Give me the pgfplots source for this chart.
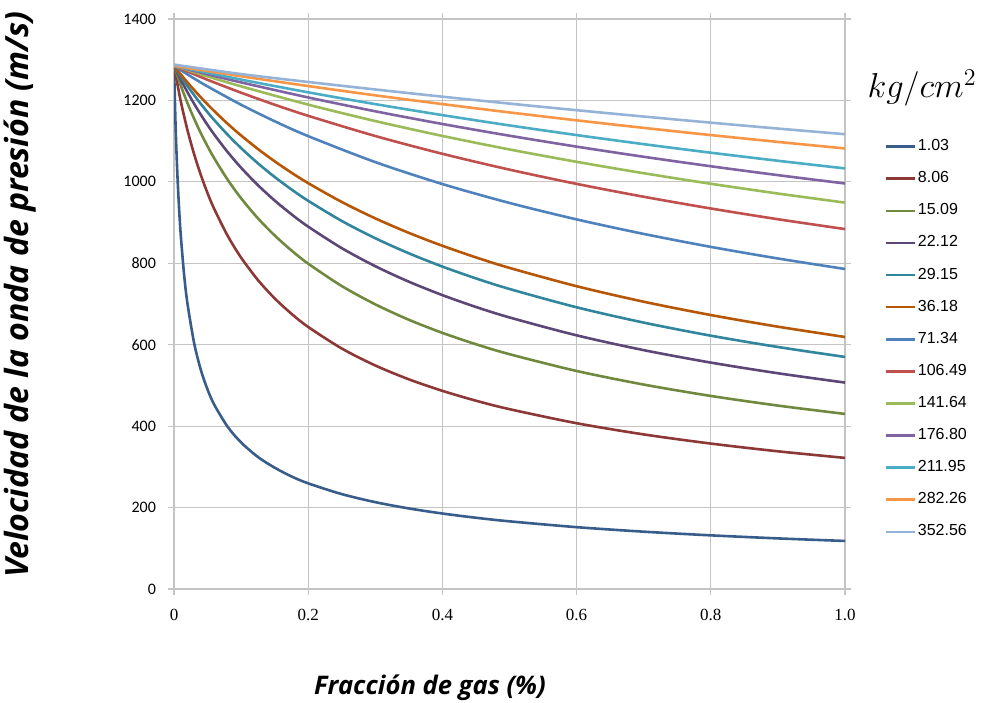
\documentclass[border=0pt]{standalone}
\usepackage{pgfplots}
\pgfplotsset{compat=1.18}
\usepackage{fontspec}
\setmainfont{Liberation Serif}
\newfontfamily\carlito{Carlito}
\newfontfamily\arialf{Liberation Sans}
\newfontfamily\opensans{Open Sans}
\definecolor{c1}{HTML}{385D8A}
\definecolor{c2}{HTML}{8C3836}
\definecolor{c3}{HTML}{71893F}
\definecolor{c4}{HTML}{5C4776}
\definecolor{c5}{HTML}{31859C}
\definecolor{c6}{HTML}{B65708}
\definecolor{c7}{HTML}{4F81BD}
\definecolor{c8}{HTML}{C0504D}
\definecolor{c9}{HTML}{9BBB59}
\definecolor{c10}{HTML}{8064A2}
\definecolor{c11}{HTML}{4BACC6}
\definecolor{c12}{HTML}{F79646}
\definecolor{c13}{HTML}{95B3D7}
\definecolor{gridc}{HTML}{C4C4C4}
\begin{document}
\begin{tikzpicture}
\path[use as bounding box] (0,0) rectangle (494pt,351pt);
\begin{axis}[
  at={(87pt,56.5pt)}, anchor=south west,
  scale only axis, width=335.5pt, height=285pt,
  xmin=0, xmax=1, ymin=0, ymax=1400,
  xtick={0,0.2,0.4,0.6,0.8,1.0},
  xticklabels={0,0.2,0.4,0.6,0.8,1.0},
  ytick={0,200,400,600,800,1000,1200,1400},
  yticklabels={0,200,400,600,800,1000,1200,1400},
  xticklabel style={font=\fontsize{8.5}{10}\selectfont, yshift=-3.5pt},
  yticklabel style={font=\carlito\fontsize{8}{10}\selectfont, xshift=-2.5pt},
  grid=major,
  major grid style={gridc, line width=0.6pt},
  axis line style={gridc, line width=0.6pt},
  tick style={gridc, line width=0.6pt},
  tick align=outside, major tick length=3pt,
  xlabel={Fracción de gas (\%)},
  ylabel={Velocidad de la onda de presión (m/s)},
  xlabel style={font=\opensans\bfseries\itshape\fontsize{12.8}{14}\selectfont, at={(axis description cs:0.3815,-0.1737)}, anchor=center},
  ylabel style={font=\opensans\bfseries\itshape\fontsize{16}{18}\selectfont, at={(axis description cs:-0.2295,0.516)}, anchor=center, rotate=0},
  legend style={at={(axis description cs:1.058,0.805)}, anchor=north west, draw=none, fill=none,
    font=\arialf\fontsize{8}{9}\selectfont, row sep=0pt, inner sep=0pt,
    nodes={inner sep=1pt, minimum height=16.05pt}},
  legend cell align=left,
  legend image code/.code={\draw[#1] (0pt,0pt) -- (14.5pt,0pt);},
  every axis plot/.append style={line width=1.3pt, smooth, tension=0.5},
]
\addplot[c1] coordinates {(0,1285) (0.0025,1130) (0.005,1020) (0.0075,936.7) (0.01,871) (0.015,772.9) (0.02,702) (0.03,604) (0.04,538.0) (0.05,490) (0.06,452.7) (0.08,398.3) (0.1,360) (0.125,324.3) (0.15,298) (0.175,276.6) (0.2,259.5) (0.25,233.1) (0.3,213.3) (0.35,197.9) (0.4,185.4) (0.45,175.0) (0.5,166.2) (0.6,151.9) (0.7,140.8) (0.8,131.8) (0.9,124.3) (1.0,118)};
\addlegendentry{1.03}
\addplot[c2] coordinates {(0,1285) (0.01,1198.6) (0.02,1127.6) (0.03,1067.9) (0.04,1016.8) (0.05,972.3) (0.06,933.3) (0.08,867.5) (0.1,813.9) (0.125,759.0) (0.15,713.9) (0.175,676.1) (0.2,643.6) (0.25,590.7) (0.3,549.0) (0.35,515.0) (0.4,486.7) (0.45,462.5) (0.5,441.7) (0.6,407.2) (0.7,379.7) (0.8,357.2) (0.9,338.2) (1.0,322.0)};
\addlegendentry{8.06}
\addplot[c3] coordinates {(0,1285) (0.01,1236.9) (0.02,1193.8) (0.03,1154.9) (0.04,1119.6) (0.05,1087.4) (0.06,1057.8) (0.08,1005.2) (0.1,959.7) (0.125,910.6) (0.15,868.4) (0.175,831.6) (0.2,799.1) (0.25,744.1) (0.3,699.1) (0.35,661.3) (0.4,629.1) (0.45,601.2) (0.5,576.7) (0.6,535.5) (0.7,502.1) (0.8,474.2) (0.9,450.5) (1.0,430.0)};
\addlegendentry{15.09}
\addplot[c4] coordinates {(0,1285) (0.01,1251.5) (0.02,1220.5) (0.03,1191.7) (0.04,1164.8) (0.05,1139.7) (0.06,1116.2) (0.08,1073.1) (0.1,1034.7) (0.125,992.0) (0.15,954.2) (0.175,920.4) (0.2,890.0) (0.25,837.2) (0.3,792.8) (0.35,754.8) (0.4,721.8) (0.45,692.7) (0.5,667.0) (0.6,623.0) (0.7,586.7) (0.8,556.1) (0.9,529.9) (1.0,507.0)};
\addlegendentry{22.12}
\addplot[c5] coordinates {(0,1285) (0.01,1259.5) (0.02,1235.6) (0.03,1212.9) (0.04,1191.4) (0.05,1171.0) (0.06,1151.7) (0.08,1115.7) (0.1,1082.9) (0.125,1045.6) (0.15,1012.0) (0.175,981.4) (0.2,953.4) (0.25,904.0) (0.3,861.5) (0.35,824.5) (0.4,791.9) (0.45,762.9) (0.5,736.9) (0.6,691.9) (0.7,654.3) (0.8,622.2) (0.9,594.4) (1.0,570.0)};
\addlegendentry{29.15}
\addplot[c6] coordinates {(0,1285) (0.01,1264.2) (0.02,1244.5) (0.03,1225.6) (0.04,1207.6) (0.05,1190.3) (0.06,1173.8) (0.08,1142.6) (0.1,1113.9) (0.125,1080.8) (0.15,1050.5) (0.175,1022.6) (0.2,996.8) (0.25,950.6) (0.3,910.3) (0.35,874.7) (0.4,843.0) (0.45,814.5) (0.5,788.7) (0.6,743.7) (0.7,705.6) (0.8,672.9) (0.9,644.3) (1.0,619.0)};
\addlegendentry{36.18}
\addplot[c7] coordinates {(0,1285) (0.025,1258.9) (0.05,1234.4) (0.1,1189.4) (0.15,1148.9) (0.2,1112.3) (0.3,1048.5) (0.4,994.6) (0.5,948.2) (0.6,907.8) (0.7,872.1) (0.8,840.3) (0.9,811.8) (1.0,786.0)};
\addlegendentry{71.34}
\addplot[c8] coordinates {(0,1285) (0.05,1250.7) (0.1,1219.0) (0.15,1189.5) (0.2,1162.2) (0.3,1112.6) (0.4,1068.9) (0.5,1030.0) (0.6,995.0) (0.7,963.4) (0.8,934.6) (0.9,908.2) (1.0,884.0)};
\addlegendentry{106.49}
\addplot[c9] coordinates {(0,1285) (0.05,1259.0) (0.1,1234.6) (0.2,1189.7) (0.3,1149.3) (0.4,1112.8) (0.5,1079.6) (0.6,1049.2) (0.7,1021.2) (0.8,995.3) (0.9,971.3) (1.0,949.0)};
\addlegendentry{141.64}
\addplot[c10] coordinates {(0,1285) (0.05,1264.2) (0.1,1244.3) (0.2,1207.3) (0.3,1173.3) (0.4,1142.1) (0.5,1113.3) (0.6,1086.5) (0.7,1061.6) (0.8,1038.3) (0.9,1016.5) (1.0,996.0)};
\addlegendentry{176.80}
\addplot[c11] coordinates {(0,1285) (0.1,1251.2) (0.2,1219.9) (0.3,1190.9) (0.4,1163.9) (0.5,1138.6) (0.6,1114.9) (0.7,1092.6) (0.8,1071.6) (0.9,1051.8) (1.0,1033.0)};
\addlegendentry{211.95}
\addplot[c12] coordinates {(0,1285) (0.1,1259.4) (0.2,1235.3) (0.3,1212.5) (0.4,1191.0) (0.5,1170.5) (0.6,1151.1) (0.7,1132.6) (0.8,1114.9) (0.9,1098.1) (1.0,1082.0)};
\addlegendentry{282.26}
\addplot[c13] coordinates {(0,1288) (0.1,1264.7) (0.2,1245.3) (0.3,1226.9) (0.4,1209.2) (0.5,1192.2) (0.6,1176.0) (0.7,1160.4) (0.8,1145.4) (0.9,1130.9) (1.0,1117.0)};
\addlegendentry{352.56}
\end{axis}
\node at (461pt,307pt) {\fontsize{16.5}{18}\selectfont $kg/cm^2$};
\end{tikzpicture}
\end{document}
